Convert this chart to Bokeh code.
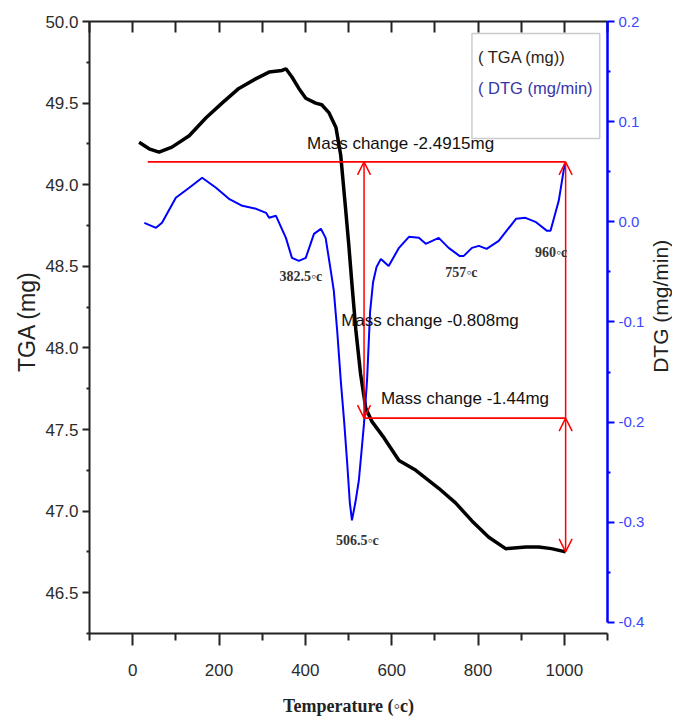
import math
from bokeh.plotting import figure
from bokeh.layouts import row
from bokeh.models import (Range1d, LinearAxis, FixedTicker, Label, Arrow, OpenHead,
                          BoxAnnotation, PrintfTickFormatter)
from bokeh.embed import file_html
from bokeh.resources import INLINE

# ---------------- data ----------------
tga_T = [15, 38, 61, 91, 131, 170, 207, 246, 286, 316, 346, 355, 369, 385, 401, 424, 438, 455,
         471, 482, 493, 501, 508, 517, 528, 540, 554, 582, 617, 656, 709, 748, 786, 825, 864,
         911, 941, 970, 1003]
tga_mg = [49.26, 49.22, 49.20, 49.23, 49.30, 49.41, 49.50, 49.59, 49.65, 49.69, 49.70, 49.71,
          49.66, 49.59, 49.53, 49.50, 49.49, 49.44, 49.35, 49.18, 48.86, 48.62, 48.39, 48.11,
          47.84, 47.63, 47.55, 47.45, 47.31, 47.25, 47.14, 47.05, 46.94, 46.84, 46.77, 46.78,
          46.78, 46.77, 46.75]

dtg_T = [27, 54, 68, 100, 131, 161, 193, 223, 254, 286, 309, 316, 332, 355, 369, 385, 401, 420,
         436, 447, 459, 466, 474, 482, 490, 497, 503, 508, 516, 524, 530, 536, 543, 550, 557,
         565, 575, 593, 617, 640, 663, 679, 709, 732, 757, 767, 786, 802, 820, 848, 888, 910,
         933, 960, 968, 987, 1001]
dtg_val = [-0.001, -0.006, -0.001, 0.024, 0.034, 0.044, 0.034, 0.023, 0.016, 0.013, 0.009,
           0.004, 0.006, -0.016, -0.036, -0.039, -0.036, -0.012, -0.007, -0.016, -0.049, -0.069,
           -0.11, -0.158, -0.20, -0.241, -0.28, -0.298, -0.28, -0.258, -0.23, -0.201, -0.158,
           -0.09, -0.06, -0.045, -0.037, -0.044, -0.026, -0.015, -0.016, -0.022, -0.016, -0.026,
           -0.034, -0.034, -0.026, -0.024, -0.027, -0.019, 0.003, 0.004, 0.0, -0.009, -0.009,
           0.021, 0.058]

x_ticks = [0, 200, 400, 600, 800, 1000]
x_minor = [-100, 100, 300, 500, 700, 900, 1100]
top_ticks = [-100, 0, 100, 200, 300, 400, 500, 600, 700, 800, 900, 1000, 1100]
tga_ticks = [46.5, 47.0, 47.5, 48.0, 48.5, 49.0, 49.5, 50.0]
tga_minor = [46.25, 46.75, 47.25, 47.75, 48.25, 48.75, 49.25, 49.75]
dtg_ticks = [-0.4, -0.3, -0.2, -0.1, 0.0, 0.1, 0.2]
dtg_minor = [-0.35, -0.25, -0.15, -0.05, 0.05, 0.15]

# mass-change annotation levels (mg) and temperatures
mass_levels = [49.14, 47.57, 46.75]
arrow_T = [536, 1003]
line_start_T = 35
mass_texts = ["Mass change -2.4915mg", "Mass change -0.808mg", "Mass change -1.44mg"]
peak_texts = ["382.5\u25e6c", "506.5\u25e6c", "757\u25e6c", "960\u25e6c"]

SANS = "'Liberation Sans', Arial, sans-serif"
SERIF = "'Liberation Serif', 'Times New Roman', serif"

H = 724
LW = 41          # left title strip
RW = 25          # right title strip
MW = 647 - LW    # main figure width (frame right edge at 610 in page)

p = figure(width=MW, height=H, x_range=Range1d(-100, 1100), y_range=Range1d(46.25, 50.0),
           output_backend="svg", toolbar_location=None,
           min_border_left=89 - LW, min_border_right=MW - (610 - LW), min_border_top=21,
           min_border_bottom=H - 633)
p.extra_y_ranges = {"dtg": Range1d(-0.411, 0.2)}
p.outline_line_color = None
p.xgrid.visible = False
p.ygrid.visible = False
p.background_fill_color = "white"

# ---------------- axes ----------------
xa = p.xaxis[0]
xa.ticker = FixedTicker(ticks=x_ticks, minor_ticks=x_minor)
xa.formatter = PrintfTickFormatter(format="%d")
xa.axis_line_color = "#222222"
xa.axis_line_width = 2
xa.major_tick_line_color = "#222222"
xa.major_tick_line_width = 2
xa.major_tick_out = 12
xa.major_tick_in = 0
xa.minor_tick_line_color = "#222222"
xa.minor_tick_line_width = 2
xa.minor_tick_out = 7
xa.minor_tick_in = 0
xa.major_label_text_font = SANS
xa.major_label_text_font_size = "17px"
xa.major_label_text_color = "#2b2b2b"
xa.major_label_standoff = 18
xa.axis_label = "Temperature (\u25e6c)"
xa.axis_label_text_font = SERIF
xa.axis_label_text_font_style = "bold"
xa.axis_label_text_font_size = "18px"
xa.axis_label_text_color = "#222222"
xa.axis_label_standoff = 17

ya = p.yaxis[0]
ya.ticker = FixedTicker(ticks=tga_ticks, minor_ticks=tga_minor)
ya.formatter = PrintfTickFormatter(format="%.1f")
ya.axis_line_color = "#222222"
ya.axis_line_width = 2
ya.major_tick_line_color = "#222222"
ya.major_tick_line_width = 2
ya.major_tick_out = 7
ya.major_tick_in = 0
ya.minor_tick_line_color = "#222222"
ya.minor_tick_line_width = 2
ya.minor_tick_out = 3
ya.minor_tick_in = 0
ya.major_label_text_font = SANS
ya.major_label_text_font_size = "17px"
ya.major_label_text_color = "#2b2b2b"
ya.major_label_standoff = 4

top = LinearAxis(ticker=FixedTicker(ticks=top_ticks, minor_ticks=[]))
top.axis_line_color = "#222222"
top.axis_line_width = 2
top.major_tick_line_color = "#222222"
top.major_tick_line_width = 2
top.major_tick_in = 11
top.major_tick_out = 0
top.minor_tick_line_color = None
top.major_label_text_font_size = "0px"
top.major_label_text_alpha = 0
top.major_label_standoff = 0
p.add_layout(top, "above")

ra = LinearAxis(y_range_name="dtg", bounds=(-0.4, 0.2),
                ticker=FixedTicker(ticks=dtg_ticks, minor_ticks=dtg_minor))
ra.formatter = PrintfTickFormatter(format="%.1f")
ra.axis_line_color = "#0000ff"
ra.axis_line_width = 2.5
ra.major_tick_line_color = "#0000ff"
ra.major_tick_line_width = 2
ra.major_tick_out = 7
ra.major_tick_in = 0
ra.minor_tick_line_color = "#0000ff"
ra.minor_tick_line_width = 2
ra.minor_tick_out = 3
ra.minor_tick_in = 0
ra.major_label_text_font = SANS
ra.major_label_text_font_size = "15px"
ra.major_label_text_color = "#3a46ff"
ra.major_label_standoff = 4
p.add_layout(ra, "right")

# ---------------- curves ----------------
p.line(tga_T, tga_mg, line_color="black", line_width=3.5)
p.line(dtg_T, dtg_val, line_color="#0000ff", line_width=2, y_range_name="dtg")

# ---------------- red mass-change markers ----------------
RED = "#ff0000"
def head():
    return OpenHead(size=13, line_color=RED, line_width=1.5)

p.add_layout(Arrow(x_start=line_start_T, y_start=mass_levels[0], x_end=arrow_T[1],
                   y_end=mass_levels[0], start=None, end=None, line_color=RED, line_width=1.8))
p.add_layout(Arrow(x_start=arrow_T[0], y_start=mass_levels[1], x_end=arrow_T[1],
                   y_end=mass_levels[1], start=None, end=None, line_color=RED, line_width=1.8))
p.add_layout(Arrow(x_start=arrow_T[0], y_start=mass_levels[1], x_end=arrow_T[0],
                   y_end=mass_levels[0], start=head(), end=head(), line_color=RED, line_width=1.5))
p.add_layout(Arrow(x_start=arrow_T[1], y_start=mass_levels[1], x_end=arrow_T[1],
                   y_end=mass_levels[0], start=None, end=head(), line_color=RED, line_width=1.5))
p.add_layout(Arrow(x_start=arrow_T[1], y_start=mass_levels[1], x_end=arrow_T[1],
                   y_end=mass_levels[2], start=head(), end=head(), line_color=RED, line_width=1.5))

# ---------------- text annotations ----------------
mass_pos = [(404, 49.25), (483, 48.17), (575, 47.69)]
for t, (x, y) in zip(mass_texts, mass_pos):
    p.add_layout(Label(x=x, y=y, text=t, text_font=SANS, text_font_size="17px",
                       text_color="#111111", text_align="left", text_baseline="middle"))

peak_pos = [(340, 48.44), (471, 46.82), (724, 48.46), (932, 48.585)]
for t, (x, y) in zip(peak_texts, peak_pos):
    p.add_layout(Label(x=x, y=y, text=t, text_font=SERIF, text_font_style="bold",
                       text_font_size="14px", text_color="#333333", text_align="left",
                       text_baseline="middle"))

# legend box
p.add_layout(BoxAnnotation(left=786, right=1082, top=49.926, bottom=49.283,
                           fill_color="white", fill_alpha=1.0, line_color="#555555",
                           line_width=1.5))
p.add_layout(Label(x=800, y=49.785, text="( TGA (mg))", text_font=SANS,
                   text_font_size="16.5px", text_color="#2b2418", text_align="left",
                   text_baseline="middle"))
p.add_layout(Label(x=800, y=49.59, text="( DTG (mg/min)", text_font=SANS,
                   text_font_size="16.5px", text_color="#3535a8", text_align="left",
                   text_baseline="middle"))


# ---------------- rotated axis titles in side strips ----------------
def title_strip(width, text, cx, cy, size):
    s = figure(width=width, height=H, x_range=Range1d(0, width), y_range=Range1d(0, H),
               output_backend="svg", toolbar_location=None,
               x_axis_location=None, y_axis_location=None,
               min_border=0, min_border_left=0, min_border_right=0,
               min_border_top=0, min_border_bottom=0)
    s.outline_line_color = None
    s.xgrid.visible = False
    s.ygrid.visible = False
    s.add_layout(Label(x=cx, y=H - cy, text=text, text_font=SANS, text_font_size=size,
                       text_color="#222222", angle=math.pi / 2, text_align="center",
                       text_baseline="middle"))
    return s

left_strip = title_strip(LW, "TGA (mg)", 26, 355, "23px")
right_strip = title_strip(RW, "DTG (mg/min)", 12.5, 337, "21px")

layout = row(left_strip, p, right_strip, spacing=0)
open("out.html", "w").write(file_html(layout, INLINE))
